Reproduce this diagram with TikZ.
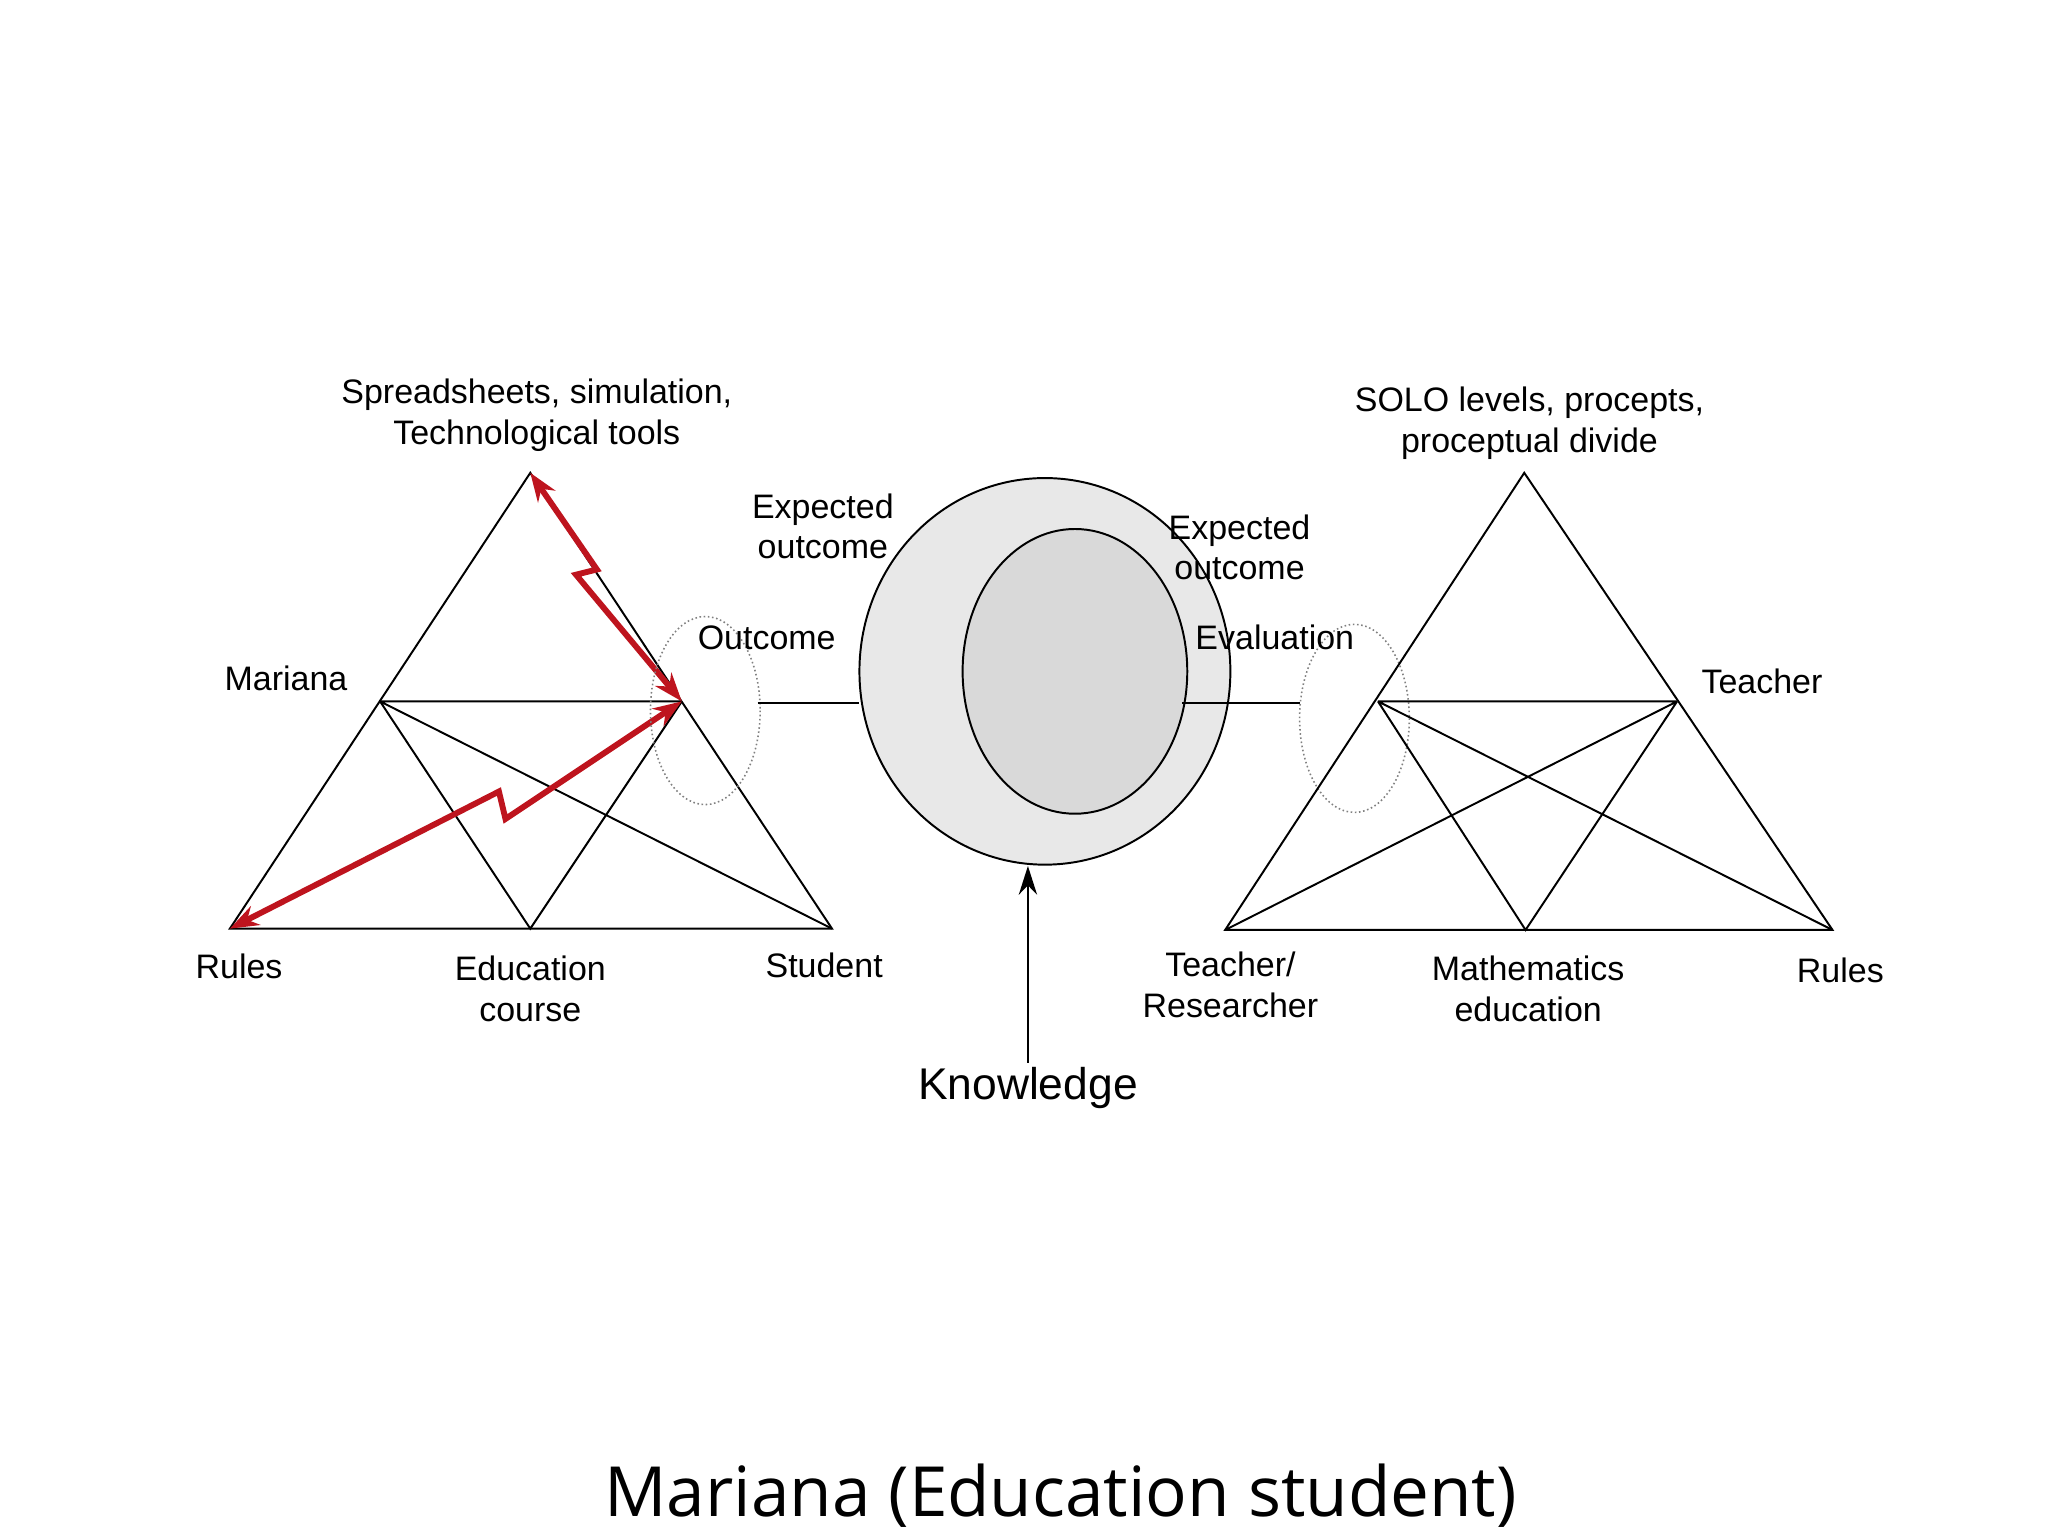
\documentclass[tikz,border=0pt]{standalone}
\usepackage{fontspec}
\setmainfont{Liberation Sans}
\newfontfamily\titlefont{Open Sans}
\usetikzlibrary{arrows.meta}
\begin{document}
\begin{tikzpicture}[x=1pt,y=-1pt,
  lbl/.style={font=\fontsize{26}{31}\selectfont,align=center,inner sep=0},
  ln/.style={line width=1.5pt},
  redarr/.style={draw={rgb,255:red,190;green,20;blue,30},line width=4.5pt,{Stealth[length=22pt,width=16pt]}-{Stealth[length=22pt,width=16pt]}},
  dots/.style={draw=gray,dotted,line width=1.2pt}]
\useasboundingbox (0,0) rectangle (1568,1176);
% left triangle
\coordinate (LA) at (406,362); \coordinate (LL) at (176,711); \coordinate (LR) at (637,711);
\coordinate (LM) at (291,537); \coordinate (LN) at (522,537); \coordinate (LB) at (406,711);
\draw[ln] (LA)--(LL)--(LR)--cycle;
\draw[ln] (LM)--(LN) (LM)--(LB)--(LN) (LM)--(LR);
\draw[redarr] (LA)--(457,436)--(441,440)--(LN);
\draw[redarr] (LN)--(387,627)--(382,606)--(LL);
% ellipses and circle
\draw[dots] (540,544) ellipse [x radius=42,y radius=72];
\draw[ln] (580,538)--(658,538);
\draw[ln,fill=gray!18] (800,514) ellipse [x radius=142,y radius=148];
\draw[ln,fill=gray!30] (823,514) ellipse [x radius=86,y radius=109];
\draw[ln] (905,538)--(995,538);
\draw[dots] (1037,550) ellipse [x radius=42,y radius=72];
% right triangle
\coordinate (RA) at (1167,362); \coordinate (RL) at (938,712); \coordinate (RR) at (1403,712);
\coordinate (RM) at (1055,537); \coordinate (RN) at (1284,537); \coordinate (RB) at (1168,712);
\draw[ln] (RA)--(RL)--(RR)--cycle;
\draw[ln] (RM)--(RN) (RM)--(RB)--(RN) (RM)--(RR) (RN)--(RL);
% knowledge arrow
\node[font=\fontsize{34}{38}\selectfont] (kn) at (787,833) {Knowledge};
\draw[line width=1.5pt,-{Stealth[length=22pt,width=14pt]}] (kn.north) -- (787,663);
% labels
\node[lbl] at (411,318) {Spreadsheets, simulation,\\Technological tools};
\node[lbl] at (219,519) {Mariana};
\node[lbl] at (183,740) {Rules};
\node[lbl] at (406,757) {Education\\course};
\node[lbl] at (631,739) {Student};
\node[lbl] at (630,403) {Expected\\outcome};
\node[lbl] at (587,488) {Outcome};
\node[lbl] at (949,419) {Expected\\outcome};
\node[lbl] at (976,488) {Evaluation};
\node[lbl] at (1171,324) {SOLO levels, procepts,\\proceptual divide};
\node[lbl] at (1349,522) {Teacher};
\node[lbl] at (942,754) {Teacher/\\Researcher};
\node[lbl] at (1170,757) {Mathematics\\education};
\node[lbl] at (1409,743) {Rules};
\node[font=\titlefont\fontsize{53}{58}\selectfont] at (812,1145) {Mariana (Education student)};
\end{tikzpicture}
\end{document}
